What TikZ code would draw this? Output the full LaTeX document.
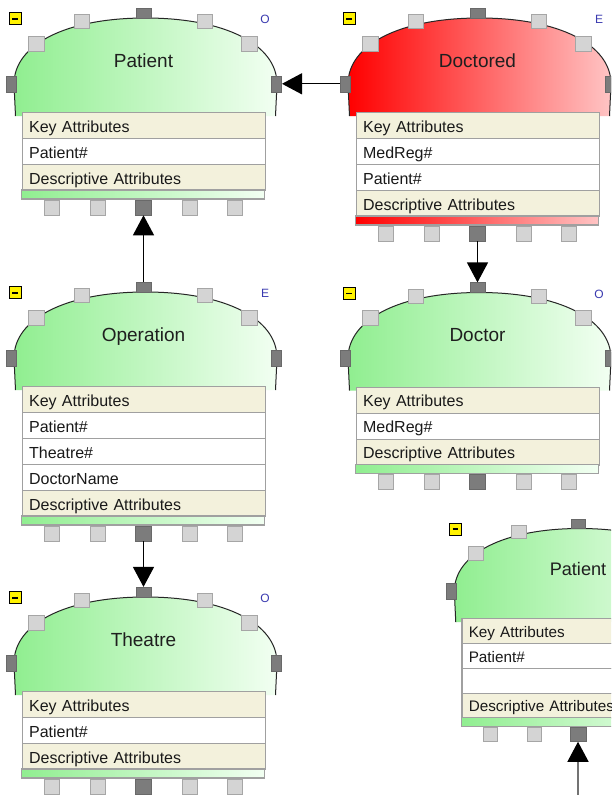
\documentclass[tikz,border=0pt]{standalone}
\usepackage{fontspec}
\setmainfont{Liberation Sans}
\usetikzlibrary{arrows.meta}

\definecolor{greenL}{HTML}{90EE90}
\definecolor{greenR}{HTML}{F2FFF2}
\definecolor{redL}{HTML}{FF0000}
\definecolor{redR}{HTML}{FFC4C4}
\definecolor{rowbeige}{HTML}{F3F1DC}
\definecolor{rowline}{HTML}{A0A0A0}
\definecolor{portlight}{HTML}{D4D4D4}
\definecolor{portlightline}{HTML}{A6A6A6}
\definecolor{portdark}{HTML}{7C7C7C}
\definecolor{flagblue}{HTML}{3A3AB0}

\tikzset{
  domeline/.style={draw=black!85, line width=1pt},
  titletext/.style={font=\fontsize{19}{22}\selectfont, text=black!88, inner sep=0, anchor=base},
  rowbox/.style={draw=rowline, line width=1.2pt, minimum width=243, minimum height=26,
    text width=229, align=left, inner xsep=7, inner ysep=0, text height=13pt, text depth=0pt,
    anchor=north west, font=\fontsize{16}{18}\selectfont, text=black!90},
  keyrow/.style={rowbox, fill=rowbeige},
  attrrow/.style={rowbox, fill=white},
  lightport/.style={draw=portlightline, fill=portlight, line width=0.8pt,
    minimum width=15, minimum height=14, inner sep=0},
  darkport/.style={fill=portdark, draw=portdark!85!black, line width=0.6pt, inner sep=0},
  togglebox/.style={fill=yellow, draw=black, line width=0.9pt, minimum size=12, inner sep=0,
    path picture={\draw[line width=1.6pt]
      ([xshift=-2.8pt]path picture bounding box.center) --
      ([xshift=2.8pt]path picture bounding box.center);}},
  flagtext/.style={font=\fontsize{12}{14}\selectfont, text=flagblue, inner sep=0, anchor=base},
  conn/.style={line width=1.3pt, -{Triangle[length=20pt,width=21pt,color=black]}},
}

% outline of the rounded head: a fuller-than-elliptic arch on short sides
\def\domepath{(-128,98) -- (-129.5,66) .. controls (-129.5,26.4) and (-77,0) .. (2,0)
      .. controls (81,0) and (133.5,26.4) .. (133.5,66) -- (132,98)}

% \entity{id}{x}{y}{scale}{title}{flag}{colour scheme}{number of attributes}{attributes}
\newcommand\entity[9]{%
  \begin{scope}[shift={(#2,#3)}, scale=#4, transform shape]
    \pgfmathsetmacro\tbar{94+26*(#8+2)}
    \pgfmathsetmacro\tbot{\tbar+9}
    % rounded head of the entity
    \path[left color=#7L, right color=#7R] \domepath -- cycle;
    \draw[domeline] \domepath;
    \node[titletext] (#1-title) at (0,49) {#5};
    % attribute table
    \node[keyrow] (#1-key) at (-122,94) {Key Attributes};
    \foreach \txt [count=\k] in {#9} {
      \node[attrrow] (#1-a\k) at (-122,{94+26*\k}) {\txt};
    }
    \node[keyrow] (#1-desc) at (-122,{94+26*(#8+1)}) {Descriptive Attributes};
    \path[left color=#7L, right color=#7R, draw=rowline, line width=1.2pt]
      (-122,\tbar) rectangle (121,\tbot);
    % connection ports
    \node[lightport] (#1-p1) at (-62,3.7) {};
    \node[lightport] (#1-p2) at (61,3.7) {};
    \node[lightport, minimum width=16, minimum height=15] (#1-p3) at (-107,25.8) {};
    \node[lightport, minimum width=16, minimum height=15] (#1-p4) at (106,25.8) {};
    \node[darkport, minimum width=15, minimum height=10] (#1-t) at (0,-4.8) {};
    \node[darkport, minimum width=10, minimum height=16] (#1-l) at (-132.5,65.8) {};
    \node[darkport, minimum width=10, minimum height=16] (#1-r) at (133.2,65.8) {};
    \node[lightport, minimum height=15] (#1-b1) at (-92,{\tbot+8.5}) {};
    \node[lightport, minimum height=15] (#1-b2) at (-46,{\tbot+8.5}) {};
    \node[darkport, minimum width=16.5, minimum height=15] (#1-b) at (0,{\tbot+8.5}) {};
    \node[lightport, minimum height=15] (#1-b4) at (46,{\tbot+8.5}) {};
    \node[lightport, minimum height=15] (#1-b5) at (91,{\tbot+8.5}) {};
    % collapse toggle and kind flag
    \node[togglebox] (#1-toggle) at (-128.5,0.8) {};
    \node[flagtext] (#1-flag) at (121.5,5.8) {#6};
  \end{scope}%
}

\begin{document}
\begin{tikzpicture}[x=1pt, y=-1pt]
  \useasboundingbox (0,0) rectangle (611,795);
  \fill[white] (0,0) rectangle (611,795);
  \clip (0,0) rectangle (611,795);

  \entity{P}{143.5}{18}{1}{Patient}{O}{green}{1}{Patient\#}
  \entity{Dd}{477.5}{18}{1}{Doctored}{E}{red}{2}{MedReg\#,Patient\#}
  \entity{Op}{143.5}{292}{1}{Operation}{E}{green}{3}{Patient\#,Theatre\#,DoctorName}
  \entity{Dr}{477.5}{292.5}{1}{Doctor}{O}{green}{1}{MedReg\#}
  \entity{Th}{143.5}{597}{1}{Theatre}{O}{green}{1}{Patient\#}
  \entity{P2}{578}{528.5}{0.955}{Patient}{}{green}{2}{Patient\#,\mbox{}}

  % relationships
  \draw[conn] (Dd-l) -- (P-r);
  \draw[conn] (Op-t) -- (P-b);
  \draw[conn] (Dd-b) -- (Dr-t);
  \draw[conn] (Op-b) -- (Th-t);
  \coordinate (P2in) at (578,800);
  \draw[conn, draw=black!55] (P2in) -- (P2-b);
\end{tikzpicture}
\end{document}
